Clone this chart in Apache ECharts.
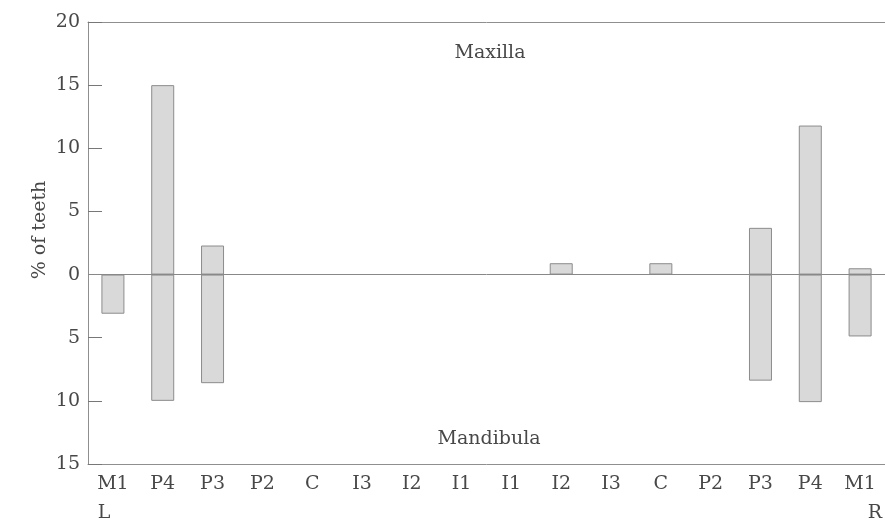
<!DOCTYPE html>
<html>
<head>
<meta charset="utf-8">
<script src="https://cdn.jsdelivr.net/npm/echarts@6/dist/echarts.min.js"></script>
<style>
  html, body { margin: 0; padding: 0; background: #fff; }
  #main { width: 885px; height: 523px; }
</style>
</head>
<body>
<div id="main"></div>
<script>
// teeth positions, left side to right side
const categories = ['M1', 'P4', 'P3', 'P2', 'C', 'I3', 'I2', 'I1', 'I1', 'I2', 'I3', 'C', 'P2', 'P3', 'P4', 'M1'];
// % of teeth, upper jaw (plotted up)
const maxilla = [0, 15, 2.3, 0, 0, 0, 0, 0, 0, 0.9, 0, 0.9, 0, 3.7, 11.8, 0.5];
// % of teeth, lower jaw (plotted down)
const mandibula = [3.1, 10, 8.6, 0, 0, 0, 0, 0, 0, 0, 0, 0, 0, 8.4, 10.1, 4.9];
const yTicks = [-15, -10, -5, 0, 5, 10, 15, 20];

const font = 'DejaVu Serif';
const fs = 19;
const grey = '#484848';
const lineGrey = '#8f8f8f';
const txt = (s) => ({ text: s, font: fs + 'px "DejaVu Serif"', fill: grey, textAlign: 'center', textVerticalAlign: 'middle' });

const chart = echarts.init(document.getElementById('main'));

const barStyle = {
  color: '#d9d9d9',
  borderColor: '#8c8c8c',
  borderWidth: 1,
};

chart.setOption({
  animation: false,
  grid: { left: 88, top: 22, width: 800, height: 442 },
  xAxis: [
    {
      type: 'category',
      data: categories,
      axisLine: { onZero: false, lineStyle: { color: lineGrey } },
      axisTick: { show: false },
      axisLabel: { color: grey, fontFamily: font, fontSize: fs, margin: 11, interval: 0 },
    },
    {
      // plain top frame line
      type: 'category',
      position: 'top',
      data: categories,
      axisLine: { onZero: false, lineStyle: { color: lineGrey } },
      axisTick: { show: false },
      axisLabel: { show: false },
    },
  ],
  yAxis: {
    type: 'value',
    min: yTicks[0],
    max: yTicks[yTicks.length - 1],
    interval: 5,
    axisLine: { show: true, lineStyle: { color: lineGrey } },
    axisTick: { show: true, inside: true, length: 14, lineStyle: { color: '#777' } },
    splitLine: { show: false },
    axisLabel: {
      color: grey,
      fontFamily: font,
      fontSize: fs,
      margin: 8,
      formatter: (v) => String(Math.abs(v)),
    },
  },
  series: [
    {
      name: 'Maxilla',
      type: 'bar',
      stack: 'teeth',
      barWidth: 23,
      itemStyle: barStyle,
      data: maxilla.map((v) => (v ? v : null)),
      markLine: {
        silent: true,
        symbol: 'none',
        label: { show: false },
        lineStyle: { color: '#888', width: 1, type: 'solid' },
        data: [{ yAxis: 0 }],
      },
    },
    {
      name: 'Mandibula',
      type: 'bar',
      stack: 'teeth',
      barWidth: 23,
      itemStyle: barStyle,
      data: mandibula.map((v) => (v ? -v : null)),
    },
  ],
  graphic: [
    { type: 'text', x: 490, y: 53, style: txt('Maxilla') },
    { type: 'text', x: 489, y: 439, style: txt('Mandibula') },
    { type: 'text', x: 104, y: 513, style: txt('L') },
    { type: 'text', x: 875, y: 513, style: txt('R') },
    { type: 'text', x: 40, y: 230, rotation: Math.PI / 2, style: txt('% of teeth') },
  ],
});
</script>
</body>
</html>
